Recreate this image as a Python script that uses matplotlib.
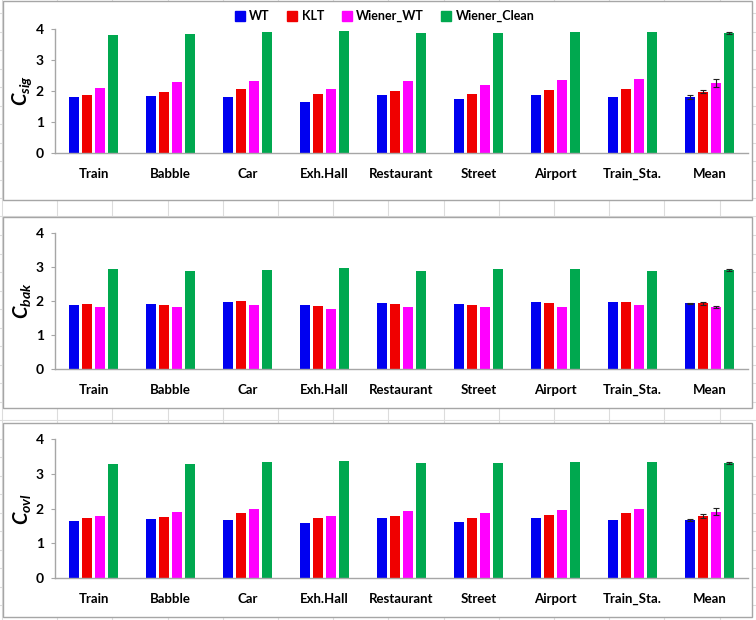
import numpy as np
import matplotlib
matplotlib.use("Agg")
import matplotlib.pyplot as plt
from matplotlib.lines import Line2D
from matplotlib.patches import Rectangle

plt.rcParams['font.family'] = ['Lato', 'DejaVu Sans']
plt.rcParams['font.weight'] = 'bold'
plt.rcParams['mathtext.fontset'] = 'custom'
plt.rcParams['mathtext.it'] = 'Lato:italic:bold'
plt.rcParams['mathtext.rm'] = 'Lato:bold'

categories = ["Train", "Babble", "Car", "Exh.Hall", "Restaurant", "Street",
              "Airport", "Train_Sta.", "Mean"]
series_names = ["WT", "KLT", "Wiener_WT", "Wiener_Clean"]
colors = ["#0000f0", "#f00000", "#ff00ff", "#00a84f"]

csig_wt    = [1.80, 1.85, 1.80, 1.66, 1.88, 1.74, 1.88, 1.80, 1.80]
csig_klt   = [1.87, 1.97, 2.05, 1.90, 2.00, 1.90, 2.02, 2.05, 1.97]
csig_wwt   = [2.09, 2.28, 2.33, 2.05, 2.33, 2.19, 2.36, 2.39, 2.25]
csig_clean = [3.82, 3.84, 3.89, 3.92, 3.86, 3.86, 3.89, 3.89, 3.86]
csig_mean_err = [0.07, 0.05, 0.13, 0.03]

cbak_wt    = [1.88, 1.91, 1.96, 1.88, 1.93, 1.91, 1.96, 1.96, 1.93]
cbak_klt   = [1.91, 1.89, 2.01, 1.86, 1.91, 1.89, 1.93, 1.98, 1.93]
cbak_wwt   = [1.81, 1.81, 1.89, 1.76, 1.83, 1.83, 1.83, 1.89, 1.83]
cbak_clean = [2.93, 2.87, 2.90, 2.98, 2.89, 2.93, 2.93, 2.89, 2.91]
cbak_mean_err = [0.02, 0.04, 0.03, 0.03]

covl_wt    = [1.64, 1.69, 1.67, 1.58, 1.72, 1.61, 1.72, 1.66, 1.67]
covl_klt   = [1.73, 1.76, 1.86, 1.73, 1.78, 1.73, 1.81, 1.86, 1.78]
covl_wwt   = [1.78, 1.91, 1.99, 1.78, 1.94, 1.86, 1.96, 2.00, 1.91]
covl_clean = [3.29, 3.29, 3.33, 3.38, 3.31, 3.31, 3.33, 3.33, 3.31]
covl_mean_err = [0.03, 0.05, 0.10, 0.02]

yticks = [0, 1, 2, 3, 4]

panels = [
    (r"$C_{sig}$", [csig_wt, csig_klt, csig_wwt, csig_clean], csig_mean_err),
    (r"$C_{bak}$", [cbak_wt, cbak_klt, cbak_wwt, cbak_clean], cbak_mean_err),
    (r"$C_{ovl}$", [covl_wt, covl_klt, covl_wwt, covl_clean], covl_mean_err),
]

W, H = 756, 620
fig = plt.figure(figsize=(W / 100, H / 100), dpi=100)

# spreadsheet background grid
grid_c = "#dcdcdc"
for xp in np.arange(2, W, 55.2):
    fig.add_artist(Line2D([xp / W, xp / W], [0, 1], color=grid_c, lw=0.8,
                          transform=fig.transFigure, zorder=0))
for yp in np.arange(13, H, 18.5):
    fig.add_artist(Line2D([0, 1], [1 - yp / H, 1 - yp / H], color=grid_c, lw=0.8,
                          transform=fig.transFigure, zorder=0))

# panel frames (pixel top, bottom) and axes (pixel y of 4, y of 0)
frames = [(1, 200), (217, 408), (423, 617)]
axes_px = [(29, 153), (233, 369), (439, 578)]
ax_left, ax_right = 55, 748

x = np.arange(len(categories))
step = 0.169
width = 0.13
offsets = (np.arange(4) - 1.5) * step

for (label, data, merr), (ft, fb), (at, ab) in zip(panels, frames, axes_px):
    fig.add_artist(Rectangle((3 / W, 1 - fb / H), 749 / W, (fb - ft) / H,
                             transform=fig.transFigure, facecolor="white",
                             edgecolor="#a6a6a6", lw=1.0, zorder=1))
    ax = fig.add_axes([ax_left / W, 1 - ab / H, (ax_right - ax_left) / W, (ab - at) / H])
    ax.set_zorder(2)
    ax.patch.set_alpha(0)
    for i, (vals, c) in enumerate(zip(data, colors)):
        ax.bar(x + offsets[i], vals, width, color=c, label=series_names[i], zorder=2)
        ax.errorbar(x[-1] + offsets[i], vals[-1], yerr=merr[i], fmt="none",
                    ecolor="#222222", elinewidth=0.8, capsize=2.5, capthick=0.8, zorder=3)
    ax.set_xlim(-0.5, len(categories) - 0.5)
    ax.set_ylim(0, 4)
    ax.set_yticks(yticks)
    ax.set_yticklabels([str(t) for t in yticks], fontsize=10, fontweight="bold")
    ax.set_xticks(x)
    ax.set_xticklabels(categories, fontsize=9.5, fontweight="bold")
    ax.tick_params(axis="x", length=0, pad=11)
    ax.tick_params(axis="y", length=3, color="#a6a6a6", pad=5)
    for s in ["top", "right"]:
        ax.spines[s].set_visible(False)
    for s in ["left", "bottom"]:
        ax.spines[s].set_color("#a6a6a6")
        ax.spines[s].set_linewidth(1.0)
    ax.set_ylabel(label, fontsize=14.5)
    ax.yaxis.set_label_coords(-0.031, 0.5)

handles = [Line2D([], [], marker="s", linestyle="none", markersize=7,
                  markerfacecolor=c, markeredgecolor=c) for c in colors]
fig.legend(handles, series_names, loc="center", bbox_to_anchor=(385 / W, 1 - 16 / H),
           ncol=4, frameon=False, handlelength=0.7, handletextpad=0.4,
           columnspacing=1.45, prop={"weight": "bold", "size": 9})

fig.savefig("out.png", dpi=100, facecolor="white")
